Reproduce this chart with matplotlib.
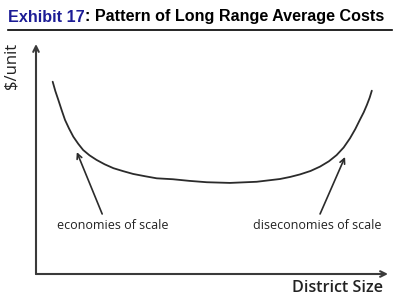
import matplotlib
matplotlib.use("Agg")
import matplotlib.pyplot as plt
from matplotlib.lines import Line2D

# Data (x = district size, y = $/unit, arbitrary 0-100 units)
size = [4.74, 5.5, 6.34, 7.3, 8.24, 9.4, 10.6, 12.0, 13.4, 15.2, 17.2, 19.5, 22.0, 24.8, 27.6, 31.0,
        34.3, 38.9, 43.5, 48.5, 55.1, 62.7, 69.3, 72.2, 75.0, 78.0, 80.7, 83.2, 85.4, 87.4,
        89.2, 90.7, 92.0, 93.1, 94.0, 94.8, 95.4]
cost = [83.6, 79.5, 75.7, 71.2, 67.0, 63.2, 59.7, 56.6, 53.9, 51.6, 49.6, 47.7, 46.0, 44.7, 43.5, 42.5,
        41.6, 41.2, 40.5, 39.9, 39.6, 40.1, 41.3, 42.2, 43.3, 44.8, 46.7, 49.0, 51.7, 55.0,
        59.0, 63.0, 67.0, 70.3, 73.5, 76.7, 79.7]

annot_labels = ["economies of scale", "diseconomies of scale"]
annot_tips = [(11.6, 53.0), (87.8, 50.9)]
annot_tails = [(18.8, 26.1), (80.7, 26.1)]
annot_text_pos = [(21.9, 21.0), (79.8, 21.0)]

title_a = "Exhibit 17"
title_b = ": Pattern of Long Range Average Costs"
xlabel = "District Size"
ylabel = "$/unit"

fig = plt.figure(figsize=(4.0, 3.08), dpi=100)
fig.patch.set_facecolor("white")

# Title
t1 = fig.text(8/400, 1-17/308, title_a, color="#1c1c96", fontsize=11.6,
              fontweight="bold", family="Liberation Sans", va="center", ha="left")
fig.canvas.draw()
bb = t1.get_window_extent()
x_next = bb.x1 / fig.bbox.width
fig.text(x_next, 1-17/308, title_b, color="black", fontsize=11.6,
         fontweight="bold", family="Liberation Sans", va="center", ha="left")
fig.add_artist(Line2D([8/400, 392/400], [1-30/308, 1-30/308], color="black", lw=1.2,
                      transform=fig.transFigure))

ax = fig.add_axes([36/400, 1-274/308, 352/400, 230/308])
ax.set_xlim(0, 100)
ax.set_ylim(0, 100)
ax.axis("off")

axis_color = "#3a3a3a"
ax.annotate("", xy=(1.0, 0.0), xytext=(0.0, 0.0), xycoords="axes fraction",
            arrowprops=dict(arrowstyle="->", color=axis_color, lw=1.5,
                            mutation_scale=10, shrinkA=0, shrinkB=0))
ax.annotate("", xy=(0.0, 1.0), xytext=(0.0, 0.0), xycoords="axes fraction",
            arrowprops=dict(arrowstyle="->", color=axis_color, lw=1.5,
                            mutation_scale=10, shrinkA=0, shrinkB=0))

ax.plot(size, cost, color="#2b2b2b", lw=1.3, solid_capstyle="round", solid_joinstyle="round")

for lab, tip, tail, tp in zip(annot_labels, annot_tips, annot_tails, annot_text_pos):
    ax.annotate("", xy=tip, xytext=tail,
                arrowprops=dict(arrowstyle="->", color="#2b2b2b", lw=1.2,
                                mutation_scale=9, shrinkA=0, shrinkB=0))
    ax.text(tp[0], tp[1], lab, ha="center", va="center", fontsize=9.0,
            family="Open Sans", color="#222222")

fig.text(383/400, 1-288/308, xlabel, ha="right", va="center", fontsize=11.6,
         family="Open Sans", color="#222222", fontweight="semibold")
fig.text(12/400, 1-66/308, ylabel, ha="center", va="center", fontsize=12,
         family="Open Sans", color="#222222", rotation=90)

fig.savefig("out.png", dpi=100)
